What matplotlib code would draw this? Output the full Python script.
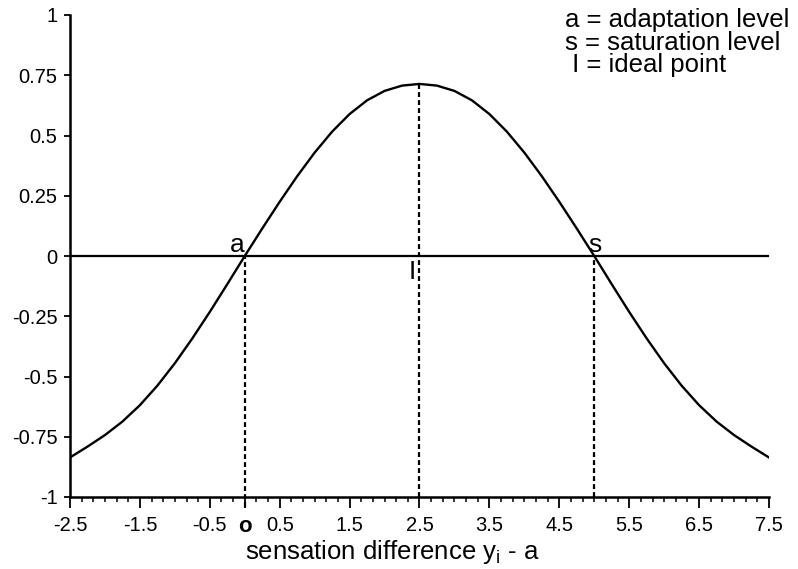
import numpy as np
import matplotlib
matplotlib.use("Agg")
import matplotlib.pyplot as plt
from matplotlib.ticker import MultipleLocator, FixedLocator

plt.rcParams['font.family'] = ['Liberation Sans', 'DejaVu Sans']
plt.rcParams['mathtext.fontset'] = 'custom'
plt.rcParams['mathtext.rm'] = 'Liberation Sans'
plt.rcParams['mathtext.it'] = 'Liberation Sans'

# utility curve, sampled every 0.25 along the sensation difference
x_vals = np.arange(-2.5, 7.5001, 0.25)
u_vals = [-0.836, -0.791, -0.743, -0.687, -0.619, -0.538, -0.445, -0.342, -0.232, -0.117,
          0.0, 0.114, 0.225, 0.331, 0.429, 0.516, 0.589, 0.646, 0.685, 0.707,
          0.714,
          0.707, 0.685, 0.646, 0.589, 0.516, 0.429, 0.331, 0.225, 0.114, 0.0,
          -0.117, -0.232, -0.342, -0.445, -0.538, -0.619, -0.687, -0.743, -0.791, -0.836]

# marked points: adaptation level, ideal point, saturation level
adapt_x = 0.0
ideal_x = 2.5
ideal_y = 0.714
satur_x = 5.0

xtick_pos = [-2.5, -1.5, -0.5, 0.0, 0.5, 1.5, 2.5, 3.5, 4.5, 5.5, 6.5, 7.5]
xtick_txt = ['-2.5', '-1.5', '-0.5', 'o', '0.5', '1.5', '2.5', '3.5', '4.5', '5.5', '6.5', '7.5']
ytick_pos = [-1, -0.75, -0.5, -0.25, 0, 0.25, 0.5, 0.75, 1]
ytick_txt = ['-1', '-0.75', '-0.5', '-0.25', '0', '0.25', '0.5', '0.75', '1']

legend_lines = ['a = adaptation level', 's = saturation level', ' I = ideal point']

fig = plt.figure(figsize=(7.98, 5.69), dpi=100)
ax = fig.add_axes([70 / 798, 1 - 497 / 569, 699 / 798, 482 / 569])

ax.plot(x_vals, u_vals, color='black', lw=1.7, solid_joinstyle='round')
ax.axhline(0, color='black', lw=1.6)

dash = dict(color='black', lw=1.6, dashes=(2.2, 1.4), clip_on=False)
ax.plot([adapt_x, adapt_x], [-1.04, 0], **dash)
ax.plot([ideal_x, ideal_x], [-1.0, ideal_y], **dash)
ax.plot([satur_x, satur_x], [-1.0, 0], **dash)

ax.set_xlim(-2.5, 7.5)
ax.set_ylim(-1, 1)
for side in ['top', 'right']:
    ax.spines[side].set_visible(False)
for side in ['left', 'bottom']:
    ax.spines[side].set_linewidth(1.8)

ax.xaxis.set_major_locator(FixedLocator(xtick_pos))
ax.set_xticklabels(xtick_txt)
ax.xaxis.set_minor_locator(MultipleLocator(1 / 6))
ax.yaxis.set_major_locator(FixedLocator(ytick_pos))
ax.set_yticklabels(ytick_txt)

ax.tick_params(axis='x', which='major', length=8, width=1.3, labelsize=14.5, pad=6, direction='out')
ax.tick_params(axis='x', which='minor', length=3.5, width=1.1, direction='out')
ax.tick_params(axis='y', which='major', length=4, width=1.3, labelsize=14.5, pad=5, direction='out')

for lab in ax.get_xticklabels():
    if lab.get_text() == 'o':
        lab.set_fontweight('bold')
        lab.set_fontsize(16)

# point labels on the zero line
ax.text(adapt_x - 0.11, 0.045, 'a', fontsize=19, ha='center', va='center')
ax.text(satur_x + 0.01, 0.045, 's', fontsize=19, ha='center', va='center')
ax.text(ideal_x - 0.11, -0.066, 'I', fontsize=19, ha='center', va='center')

for i, line in enumerate(legend_lines):
    fig.text(565 / 798, 1 - (20 + 22.5 * i) / 569, line, fontsize=18.5, ha='left', va='center')

fig.text(392 / 798, 1 - 552 / 569, r'sensation difference y$_{\mathregular{i}}$ - a',
         fontsize=18.5, ha='center', va='center')

fig.savefig('out.png', dpi=100)
